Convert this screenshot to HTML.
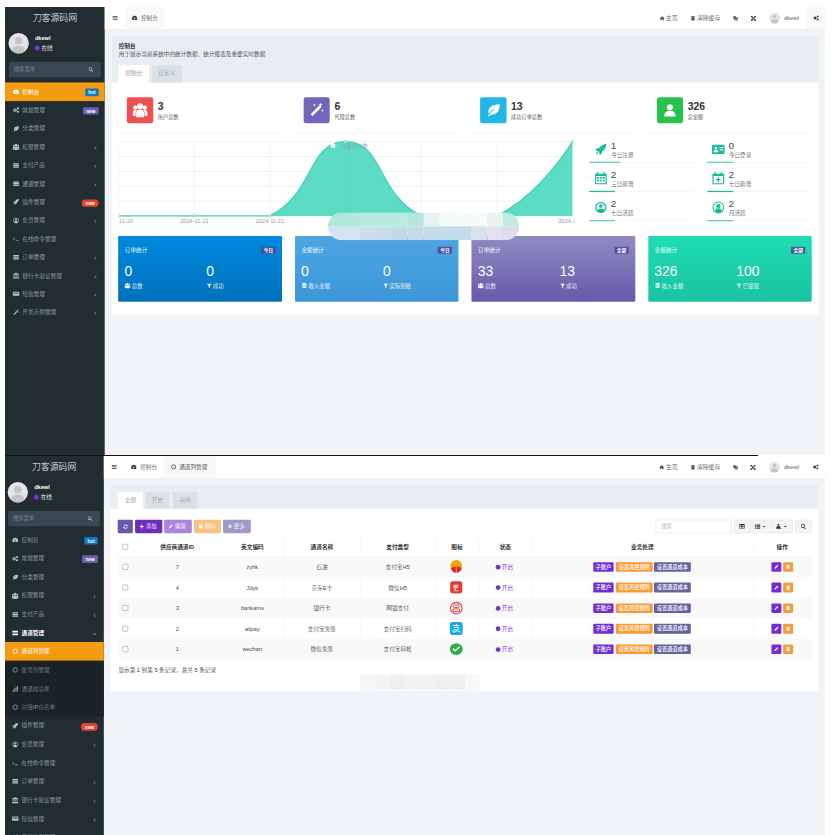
<!DOCTYPE html>
<html lang="zh-CN"><head><meta charset="utf-8"><title>刀客源码网</title>
<style>
*{box-sizing:border-box;margin:0;padding:0}
html,body{width:832px;height:835px;overflow:hidden;background:#fff}
body{position:relative;font-family:"Liberation Sans","Noto Sans CJK SC",sans-serif}
.shot{position:absolute;left:5px;transform-origin:0 0;transform:scale(.4335);overflow:hidden;background:#f1f4f6;font-size:13px;color:#444;width:1891.6px;font-weight:350}
.shot div,.shot span,.shot b,.shot i,.shot svg{position:absolute;white-space:nowrap}
.ic{fill:currentColor;overflow:visible}
.side{left:0;top:0;bottom:0;background:#222d32}
.logo{left:0;top:0;height:50px;line-height:51.500px;text-align:center;color:#fff;font-size:20.5px;font-weight:300}
.ava{border-radius:50%;background:#e4e4e4;overflow:hidden}
.ava i{background:#c4c4c4;border-radius:50%}
.uname{color:#fff;font-weight:bold;font-size:13px;left:69px;top:64px;line-height:18px}
.ustat{color:#fff;font-size:13px;left:84px;top:87px;line-height:16px}
.udot{left:68.500px;top:89px;width:11.500px;height:11.500px;border-radius:50%;background:#7a2ee0}
.sform{left:9px;top:126.500px;height:35.5px;background:#374850;border-radius:3px}
.sform span{left:12px;top:0;line-height:35.5px;color:#7f8f98;font-size:12px}
.mi{left:0;height:42.8px;line-height:42.8px;color:#b8c7ce;font-size:13px;font-weight:300}
.mi span{left:40px;top:.5px}
.mi.act{background:#f39c12;color:#fff;font-weight:400}
.mi.open{color:#fff;font-weight:bold}
.mi.subi{color:#8aa4af}
.sub{left:0;background:#1a2226}
.bd{font-size:11px;font-weight:bold;color:#fff;line-height:19.500px;height:17.500px;top:14.300px;text-align:center;border-radius:3px;font-style:normal}
.hdr{top:0;right:0;height:52px;background:#fff;border-bottom:1px solid #dfe4e8}
.tab{top:0;height:51px;line-height:51px;font-size:13px;color:#555}
.tab span{top:0}
.hr{top:0;height:51px;line-height:51px;font-size:13.7px;color:#666}

.panel{background:#fff}
.phead{background:#e8edf0}
.ptitle{font-weight:bold;font-size:13px;color:#333;line-height:18px}
.pdesc{font-size:13px;color:#444;line-height:18px}
.ntab{height:40px;line-height:40px;text-align:center;font-size:13px;color:#7b8a8b}
.sticon{width:60.5px;height:60.5px;border-radius:5px}
.stnum{font-size:24px;font-weight:bold;color:#333;line-height:28px}
.stlab{font-size:12px;color:#444;line-height:16px}
.stline{height:1.5px;background:#eef0f2}
.qn{font-size:23px;color:#4a4a4a;line-height:22px}
.ql{font-size:12.8px;color:#555;line-height:16px}
.qbar{height:1.6px;background:#ebedef}
.qbar i{left:0;top:-.3px;height:2.200px;background:#18bc9c}
.card{height:152.700px;width:377.500px;border-radius:3px;color:#fff}
.card .t{left:15px;top:24px;font-size:13px;line-height:18px}
.card .b{right:15px;top:25.500px;height:16px;line-height:16px;padding:0 5.500px;font-size:11px;font-weight:bold;background:rgba(78,66,150,.82);border-radius:2px}
.card .n{top:59px;font-size:32px;line-height:44px}
.card .l{top:107.700px;font-size:12.500px;line-height:18px}
.ax{font-size:13px;fill:#999}

.tb{height:30.800px;line-height:30.800px;border-radius:3px;color:#fff;font-size:12.500px;top:147px}
.tb span{top:0}
.th{font-weight:bold;color:#333;font-size:13px;line-height:46.700px;top:188px;height:42.700px;text-align:center}
.td{font-size:13px;color:#4a4a4a;text-align:center;line-height:47.500px;height:47.500px}
.vb{border-left:1.200px solid #eef0f2;top:188px;width:0;height:281.600px}
.cb{width:13px;height:13px;border:1.300px solid #767676;border-radius:2.500px;background:#fff;left:271.200px}
.bb{height:22.400px;line-height:22.400px;font-size:12px;font-weight:500;color:#fff;border-radius:2.500px;text-align:center}
.g{background:#f4f4f4;border:1.200px solid #ddd;top:146.500px;height:31.800px}
</style></head>
<body>
<div class="shot" style="top:7px;height:1034px"><div class="side" style="width:230px"><div class="logo" style="width:230px">刀客源码网</div><div class="ava" style="left:7.500px;top:59.500px;width:47.500px;height:47.500px"><i style="left:15.500px;top:9.500px;width:16.500px;height:16.500px"></i><i style="left:7px;top:29px;width:33.500px;height:27px"></i></div><div class="uname">dkewl</div><div class="udot"></div><div class="ustat">在线</div><div class="sform" style="width:212px"><span>搜索菜单</span><svg class="ic" style="left:183px;top:11.5px;width:12.5px;height:12.5px;color:#b8c7ce;" viewBox="0 0 16 16"><path d="M6.500 1a5.500 5.500 0 0 1 4.400 8.800l4 4-1.600 1.600-4-4A5.500 5.500 0 1 1 6.500 1zm0 2a3.500 3.500 0 1 0 0 7 3.500 3.500 0 0 0 0-7z"/></svg></div><div class="mi act" style="top:174.0px;width:230px"><svg class="ic" style="left:18px;top:14px;width:15px;height:15px;" viewBox="0 0 16 16"><path d="M8 2.5a7 7 0 0 0-7 7c0 1.5.4 2.8 1.1 3.9h11.8A7 7 0 0 0 8 2.5zM8 11.8a1.5 1.5 0 0 1-1.3-2.2L5 5.5l3.6 3.4A1.5 1.5 0 0 1 8 11.8z"/></svg><span>控制台</span><b class="bd" style="left:185px;width:31px;background:#0f7ac2">hot</b></div><div class="mi " style="top:216.4px;width:230px"><svg class="ic" style="left:18px;top:14px;width:15px;height:15px;" viewBox="0 0 16 16"><circle cx="5.5" cy="8.5" r="4.2"/><circle cx="12.6" cy="4.2" r="2.6"/><circle cx="12.6" cy="12.4" r="2.6"/><circle cx="5.5" cy="8.5" r="1.5" fill="#222d32"/></svg><span>常规管理</span><b class="bd" style="left:180px;width:36px;background:#6a5fb3">new</b></div><div class="mi " style="top:258.8px;width:230px"><svg class="ic" style="left:18px;top:14px;width:15px;height:15px;" viewBox="0 0 16 16"><path d="M15 2C8 1.5 2.5 4.5 2.5 9.5c0 .9.2 1.7.6 2.4C5 8.8 7.6 7 11 6.2 8 7.8 4.6 10.6 2 14.5l1.3.7c.5-.9 1.1-1.7 1.7-2.4C11 14.2 15 9 15 2z"/></svg><span>分类管理</span></div><div class="mi " style="top:301.2px;width:230px"><svg class="ic" style="left:18px;top:14px;width:15px;height:15px;" viewBox="0 0 16 16"><circle cx="8" cy="3.800" r="3.300"/><circle cx="2.700" cy="5.400" r="2.300"/><circle cx="13.300" cy="5.400" r="2.300"/><path d="M3.600 16v-5c0-2.400 1.800-3.700 4.400-3.700s4.400 1.300 4.400 3.700v5zM0 14.500v-3.800C0 9 1.100 8 2.700 8c.6 0 1.100.1 1.500.4-.8.800-1.200 1.800-1.200 3v3.100zM16 14.500v-3.800C16 9 14.900 8 13.300 8c-.6 0-1.100.1-1.500.4.800.8 1.200 1.800 1.200 3v3.100z"/></svg><span>权限管理</span><svg class="ic" style="left:204px;top:19.5px;width:9.5px;height:9.5px;" viewBox="0 0 16 16"><path d="M10.500 2.500L5 8l5.500 5.500" fill="none" stroke="currentColor" stroke-width="2.300"/></svg></div><div class="mi " style="top:343.6px;width:230px"><svg class="ic" style="left:18px;top:14px;width:15px;height:15px;" viewBox="0 0 16 16"><path d="M1 2.500h14v3H1zM1 6.700h14v2.600H1zM1 10.500h14v3H1z"/></svg><span>支付产品</span><svg class="ic" style="left:204px;top:19.5px;width:9.5px;height:9.5px;" viewBox="0 0 16 16"><path d="M10.500 2.500L5 8l5.500 5.500" fill="none" stroke="currentColor" stroke-width="2.300"/></svg></div><div class="mi " style="top:386.0px;width:230px"><svg class="ic" style="left:18px;top:14px;width:15px;height:15px;" viewBox="0 0 16 16"><path d="M1 2.500h14v3H1zM1 6.700h14v2.600H1zM1 10.500h14v3H1z"/></svg><span>通道管理</span><svg class="ic" style="left:204px;top:19.5px;width:9.5px;height:9.5px;" viewBox="0 0 16 16"><path d="M10.500 2.500L5 8l5.500 5.500" fill="none" stroke="currentColor" stroke-width="2.300"/></svg></div><div class="mi " style="top:428.4px;width:230px"><svg class="ic" style="left:18px;top:14px;width:15px;height:15px;" viewBox="0 0 16 16"><path d="M15 1c-4 .2-7 2-9.500 5.500L2.500 7 1 9.500l3 .5 2 2 .5 3L9 13.500l.5-3C13 8 14.800 5 15 1zM3.500 11l-2.200 3.700L5 12.500z"/></svg><span>插件管理</span><b class="bd" style="left:177px;width:39px;top:15.300px;background:#e5402f;border-radius:9px">new</b></div><div class="mi " style="top:470.8px;width:230px"><svg class="ic" style="left:18px;top:14px;width:15px;height:15px;" viewBox="0 0 16 16"><circle cx="8" cy="8" r="6.300" fill="none" stroke="currentColor" stroke-width="1.700"/><circle cx="8" cy="6.200" r="2.300"/><path d="M3.800 12.300c.5-2 2-3 4.200-3s3.700 1 4.200 3A6 6 0 0 1 8 14.200a6 6 0 0 1-4.200-1.900z"/></svg><span>会员管理</span><svg class="ic" style="left:204px;top:19.5px;width:9.5px;height:9.5px;" viewBox="0 0 16 16"><path d="M10.500 2.500L5 8l5.500 5.500" fill="none" stroke="currentColor" stroke-width="2.300"/></svg></div><div class="mi " style="top:513.2px;width:230px"><svg class="ic" style="left:18px;top:14px;width:15px;height:15px;" viewBox="0 0 16 16"><path d="M1.500 5l4 3.500-4 3.500v-1.600L3.700 8.500 1.500 6.600zM7 11.500h7V13H7z"/></svg><span>在线命令管理</span></div><div class="mi " style="top:555.5999999999999px;width:230px"><svg class="ic" style="left:18px;top:14px;width:15px;height:15px;" viewBox="0 0 16 16"><path d="M1 2.500h14v3H1zM1 6.700h14v2.600H1zM1 10.500h14v3H1z"/></svg><span>订单管理</span><svg class="ic" style="left:204px;top:19.5px;width:9.5px;height:9.5px;" viewBox="0 0 16 16"><path d="M10.500 2.500L5 8l5.500 5.500" fill="none" stroke="currentColor" stroke-width="2.300"/></svg></div><div class="mi " style="top:598.0px;width:230px"><svg class="ic" style="left:18px;top:14px;width:15px;height:15px;" viewBox="0 0 16 16"><path d="M8 1l7.500 3.500V6H.5V4.500zM2 7h2.400v5H2zm4.800 0h2.400v5H6.800zm4.800 0H14v5h-2.400zM1 12.800h14V14H1zM0 14.400h16V16H0z"/></svg><span>银行卡验证管理</span><svg class="ic" style="left:204px;top:19.5px;width:9.5px;height:9.5px;" viewBox="0 0 16 16"><path d="M10.500 2.500L5 8l5.500 5.500" fill="none" stroke="currentColor" stroke-width="2.300"/></svg></div><div class="mi " style="top:640.4px;width:230px"><svg class="ic" style="left:18px;top:14px;width:15px;height:15px;" viewBox="0 0 16 16"><path d="M1.500 3h13c.8 0 1.500.7 1.500 1.500v7c0 .8-.7 1.500-1.500 1.500h-13C.7 13 0 12.300 0 11.500v-7C0 3.700.7 3 1.500 3zM1.500 5.500v2h13v-2zM2 10h3v1.200H2z"/></svg><span>短信管理</span><svg class="ic" style="left:204px;top:19.5px;width:9.5px;height:9.5px;" viewBox="0 0 16 16"><path d="M10.500 2.500L5 8l5.500 5.500" fill="none" stroke="currentColor" stroke-width="2.300"/></svg></div><div class="mi " style="top:682.8px;width:230px"><svg class="ic" style="left:18px;top:14px;width:15px;height:15px;" viewBox="0 0 16 16"><path d="M11.500 2.500l2 2L3.500 14.500l-2-2zM12.500 0l.6 1.400L14.500 2l-1.400.6L12.500 4l-.6-1.400L10.500 2l1.400-.6zM5.500 1l.5 1 1 .5-1 .5-.5 1-.5-1-1-.5 1-.5zM14.500 7l.5 1 1 .5-1 .5-.5 1-.5-1-1-.5 1-.5z"/></svg><span>开发示例管理</span><svg class="ic" style="left:204px;top:19.5px;width:9.5px;height:9.5px;" viewBox="0 0 16 16"><path d="M10.500 2.500L5 8l5.500 5.500" fill="none" stroke="currentColor" stroke-width="2.300"/></svg></div></div><div class="hdr" style="left:230px"><svg class="ic" style="left:16.5px;top:18px;width:14px;height:14px;color:#444;" viewBox="0 0 16 16"><path d="M1.500 3h13v2h-13zM1.500 7h13v2h-13zM1.500 11h13v2h-13z"/></svg><div class="tab" style="left:46.6px;width:91px;background:#f9f9f9"><svg class="ic" style="left:15px;top:18px;width:14px;height:14px;color:#444;" viewBox="0 0 16 16"><path d="M8 2.5a7 7 0 0 0-7 7c0 1.5.4 2.8 1.1 3.9h11.8A7 7 0 0 0 8 2.5zM8 11.8a1.5 1.5 0 0 1-1.3-2.2L5 5.5l3.6 3.4A1.5 1.5 0 0 1 8 11.8z"/></svg><span style="left:37px;color:#555">控制台</span></div><svg class="ic" style="left:1279.5px;top:19.5px;width:12px;height:12px;color:#555;" viewBox="0 0 16 16"><path d="M8 1.500L.5 8h2v6h4v-4h3v4h4V8h2z"/></svg><div class="hr" style="left:1294.5px">主页</div><svg class="ic" style="left:1351.4px;top:19.5px;width:12px;height:12px;color:#555;" viewBox="0 0 16 16"><path d="M5.500 1h5l.5 1.500H15V4H1V2.500h4zM2.500 5h11l-.8 10H3.300z"/></svg><div class="hr" style="left:1365.6px">清除缓存</div><svg class="ic" style="left:1448.6px;top:19.5px;width:12px;height:12px;color:#555;" viewBox="0 0 16 16"><path d="M1 2h8l1.500 10H2.500zM9.500 4.500H15V15H7l-.5-2h5z"/></svg><svg class="ic" style="left:1489.5px;top:19.5px;width:13px;height:13px;color:#444;" viewBox="0 0 16 16"><path d="M1 1h5.500L4.800 2.700 8 5.900l3.200-3.200L9.500 1H15v5.500l-1.700-1.700L10.100 8l3.200 3.200L15 9.500V15H9.500l1.700-1.700L8 10.100l-3.200 3.200L6.500 15H1V9.500l1.700 1.700L5.900 8 2.700 4.800 1 6.500z"/></svg><div class="ava" style="left:1532.5px;top:12.5px;width:25px;height:25px"><i style="left:8.500px;top:5px;width:8px;height:8px"></i><i style="left:4px;top:15px;width:17px;height:14px"></i></div><div class="hr" style="left:1567px">dkewl</div><div style="left:1617.6px;top:0;width:44px;height:51px;background:#f9f9f9"></div><svg class="ic" style="left:1633.5px;top:18px;width:14px;height:14px;color:#444;" viewBox="0 0 16 16"><circle cx="5.5" cy="8.5" r="4.2"/><circle cx="12.6" cy="4.2" r="2.6"/><circle cx="12.6" cy="12.4" r="2.6"/><circle cx="5.5" cy="8.5" r="1.5" fill="#222d32"/></svg></div><div class="panel" style="left:246.400px;top:67px;width:1630.200px;height:644px"></div><div class="phead" style="left:246.400px;top:67px;width:1630.200px;height:106.500px"></div><div class="ptitle" style="left:262.400px;top:81px">控制台</div><div class="pdesc" style="left:262.400px;top:99px">用于展示当前系统中的统计数据、统计报表及重要实时数据</div><div class="ntab" style="left:262.400px;top:133.500px;width:70px;background:#fff">控制台</div><div class="ntab" style="left:338.500px;top:133.500px;width:69.500px;background:#d9e0e6;color:#95a5a6">自定义</div><div class="sticon" style="left:281.4px;top:207.500px;background:#f05050"><svg class="ic" style="left:13.5px;top:13px;width:33.5px;height:33.5px;color:#fff;" viewBox="0 0 16 16"><circle cx="8" cy="3.800" r="3.300"/><circle cx="2.700" cy="5.400" r="2.300"/><circle cx="13.300" cy="5.400" r="2.300"/><path d="M3.600 16v-5c0-2.400 1.800-3.700 4.400-3.700s4.400 1.300 4.400 3.700v5zM0 14.500v-3.800C0 9 1.100 8 2.700 8c.6 0 1.100.1 1.500.4-.8.800-1.200 1.800-1.200 3v3.100zM16 14.500v-3.800C16 9 14.900 8 13.300 8c-.6 0-1.100.1-1.500.4.800.8 1.200 1.800 1.200 3v3.100z"/></svg></div><div class="stnum" style="left:352.4px;top:214.5px">3</div><div class="stlab" style="left:352.4px;top:246px">用户总数</div><div class="stline" style="left:261.4px;top:289px;width:377.500px"></div><div class="sticon" style="left:688.9px;top:207.500px;background:#7266ba"><svg class="ic" style="left:13.5px;top:13px;width:33.5px;height:33.5px;color:#fff;" viewBox="0 0 16 16"><path d="M11.500 2.500l2 2L3.500 14.500l-2-2zM12.500 0l.6 1.400L14.500 2l-1.400.6L12.500 4l-.6-1.400L10.500 2l1.400-.6zM5.500 1l.5 1 1 .5-1 .5-.5 1-.5-1-1-.5 1-.5zM14.500 7l.5 1 1 .5-1 .5-.5 1-.5-1-1-.5 1-.5z"/></svg></div><div class="stnum" style="left:759.9px;top:214.5px">6</div><div class="stlab" style="left:759.9px;top:246px">代理总数</div><div class="stline" style="left:668.9px;top:289px;width:377.500px"></div><div class="sticon" style="left:1096.4px;top:207.500px;background:#23b7e5"><svg class="ic" style="left:13.5px;top:13px;width:33.5px;height:33.5px;color:#fff;" viewBox="0 0 16 16"><path d="M15 2C8 1.5 2.5 4.5 2.5 9.5c0 .9.2 1.7.6 2.4C5 8.8 7.6 7 11 6.2 8 7.8 4.6 10.6 2 14.5l1.3.7c.5-.9 1.1-1.7 1.7-2.4C11 14.2 15 9 15 2z"/></svg></div><div class="stnum" style="left:1167.4px;top:214.5px">13</div><div class="stlab" style="left:1167.4px;top:246px">成功订单总数</div><div class="stline" style="left:1076.4px;top:289px;width:377.500px"></div><div class="sticon" style="left:1503.9px;top:207.500px;background:#27c24c"><svg class="ic" style="left:13.5px;top:13px;width:33.5px;height:33.5px;color:#fff;" viewBox="0 0 16 16"><circle cx="8" cy="4.800" r="3.300"/><path d="M1.800 15c0-4 2.400-6.200 6.200-6.200s6.200 2.200 6.200 6.200z"/></svg></div><div class="stnum" style="left:1574.9px;top:214.5px">326</div><div class="stlab" style="left:1574.9px;top:246px">总金额</div><div class="stline" style="left:1483.9px;top:289px;width:377.500px"></div><svg style="left:0;top:0;width:1400px;height:560px;overflow:visible" viewBox="0 0 1400 560"><clipPath id="cc"><rect x="261.900" y="290" width="1051.600" height="230"/></clipPath><g clip-path="url(#cc)"><path d="M262.4 310.6H1308.8" stroke="#e3e6e9" stroke-width="1.500" fill="none"/><path d="M262.4 344.9H1308.8" stroke="#e3e6e9" stroke-width="1.500" fill="none"/><path d="M262.4 379.2H1308.8" stroke="#e3e6e9" stroke-width="1.500" fill="none"/><path d="M262.4 413.4H1308.8" stroke="#e3e6e9" stroke-width="1.500" fill="none"/><path d="M262.4 447.7H1308.8" stroke="#e3e6e9" stroke-width="1.500" fill="none"/><path d="M262.4 482.0H1308.8" stroke="#e3e6e9" stroke-width="1.500" fill="none"/><path d="M262.4 310.6V488.0" stroke="#eceef1" stroke-width="1.300" fill="none"/><path d="M436.8 310.6V488.0" stroke="#eceef1" stroke-width="1.300" fill="none"/><path d="M611.2 310.6V488.0" stroke="#eceef1" stroke-width="1.300" fill="none"/><path d="M785.6 310.6V488.0" stroke="#eceef1" stroke-width="1.300" fill="none"/><path d="M960.0 310.6V488.0" stroke="#eceef1" stroke-width="1.300" fill="none"/><path d="M1134.4 310.6V488.0" stroke="#eceef1" stroke-width="1.300" fill="none"/><path d="M1308.8 310.6V488.0" stroke="#eceef1" stroke-width="1.300" fill="none"/><path d="M262.4 482.0L611.2 482.0C713.5 431.5 698.1 310.6 785.6 310.6C873.1 310.6 857.7 431.5 960.0 482.0L1134.4 482.0C1236.7 431.5 1308.8 310.6 1308.8 310.6L1308.8 482.0Z" fill="#5cdcc4"/><path d="M262.4 482.0L611.2 482.0C713.5 431.5 698.1 310.6 785.6 310.6C873.1 310.6 857.7 431.5 960.0 482.0L1134.4 482.0C1236.7 431.5 1308.8 310.6 1308.8 310.6" fill="none" stroke="#3fd3b8" stroke-width="3"/><path d="M785.6 310.6V482.0" stroke="#55d6bd" stroke-width="1.200" fill="none"/><circle cx="262.4" cy="482.0" r="3" fill="#fff" stroke="#3fd3b8" stroke-width="1.600"/><circle cx="436.8" cy="482.0" r="3" fill="#fff" stroke="#3fd3b8" stroke-width="1.600"/><circle cx="611.2" cy="482.0" r="3" fill="#fff" stroke="#3fd3b8" stroke-width="1.600"/><circle cx="785.6" cy="310.6" r="3" fill="#fff" stroke="#3fd3b8" stroke-width="1.600"/><circle cx="960.0" cy="482.0" r="3" fill="#fff" stroke="#3fd3b8" stroke-width="1.600"/><circle cx="1134.4" cy="482.0" r="3" fill="#fff" stroke="#3fd3b8" stroke-width="1.600"/><circle cx="1308.8" cy="310.6" r="3" fill="#fff" stroke="#3fd3b8" stroke-width="1.600"/><circle cx="757" cy="320" r="5.500" fill="#fff"/><text x="775" y="324.500" style="font-size:12.500px" fill="#7fa9a1">注册用户数</text><text class="ax" x="262.4" y="499" text-anchor="middle">2024-11-20</text><text class="ax" x="436.8" y="499" text-anchor="middle">2024-11-21</text><text class="ax" x="611.2" y="499" text-anchor="middle">2024-11-22</text><text class="ax" x="785.6" y="499" text-anchor="middle">2024-11-23</text><text class="ax" x="960.0" y="499" text-anchor="middle">2024-11-24</text><text class="ax" x="1134.4" y="499" text-anchor="middle">2024-11-25</text><text class="ax" x="1308.8" y="499" text-anchor="middle">2024-11-26</text></g></svg><svg class="ic" style="left:1359.5px;top:314.0px;width:29px;height:29px;color:#18bc9c;" viewBox="0 0 16 16"><path d="M15 1c-4 .2-7 2-9.500 5.500L2.500 7 1 9.500l3 .5 2 2 .5 3L9 13.500l.5-3C13 8 14.800 5 15 1zM3.500 11l-2.200 3.700L5 12.500z"/></svg><div class="qn" style="left:1397.5px;top:309.0px">1</div><div class="ql" style="left:1398.5px;top:334.0px">今日注册</div><div class="qbar" style="left:1348.0px;top:357.5px;width:241.600px"><i style="width:71px"></i></div><svg class="ic" style="left:1631.2px;top:314.0px;width:29px;height:29px;color:#18bc9c;" viewBox="0 0 16 16"><path d="M1.500 2h13c.8 0 1.500.7 1.500 1.500v9c0 .8-.7 1.500-1.500 1.500h-13C.7 14 0 13.300 0 12.500v-9C0 2.700.7 2 1.500 2zM5 4.500a1.800 1.800 0 1 0 0 3.600 1.800 1.800 0 0 0 0-3.600zM2 11.500h6c0-2-1.200-3-3-3s-3 1-3 3zM9.500 5v1.500h5V5zM9.500 8v1.500h5V8z"/></svg><div class="qn" style="left:1669.2px;top:309.0px">0</div><div class="ql" style="left:1670.2px;top:334.0px">今日登录</div><div class="qbar" style="left:1619.7px;top:357.5px;width:241.600px"><i style="width:60px"></i></div><svg class="ic" style="left:1359.5px;top:381.2px;width:29px;height:29px;color:#18bc9c;" viewBox="0 0 16 16"><path d="M3 0h2v2h6V0h2v2h2.500v13.500H.5V2H3zM2 5v9h12V5zM3 6.200h2.600v2.200H3zm3.700 0h2.600v2.200H6.700zm3.700 0H13v2.200h-2.600zM3 9.500h2.600v2.200H3zm3.700 0h2.600v2.200H6.700zm3.700 0H13v2.200h-2.600z" fill-rule="evenodd"/></svg><div class="qn" style="left:1397.5px;top:376.2px">2</div><div class="ql" style="left:1398.5px;top:401.2px">三日新增</div><div class="qbar" style="left:1348.0px;top:424.7px;width:241.600px"><i style="width:59px"></i></div><svg class="ic" style="left:1631.2px;top:381.2px;width:29px;height:29px;color:#18bc9c;" viewBox="0 0 16 16"><path d="M3 0h2v2h6V0h2v2h2.500v13.500H.5V2H3zM2 5v9h12V5zM7.200 6.500h1.600v2.200H11v1.600H8.800v2.200H7.200v-2.200H5V8.700h2.200z" fill-rule="evenodd"/></svg><div class="qn" style="left:1669.2px;top:376.2px">2</div><div class="ql" style="left:1670.2px;top:401.2px">七日新增</div><div class="qbar" style="left:1619.7px;top:424.7px;width:241.600px"><i style="width:60px"></i></div><svg class="ic" style="left:1359.5px;top:448.4px;width:29px;height:29px;color:#18bc9c;" viewBox="0 0 16 16"><circle cx="8" cy="8" r="6.300" fill="none" stroke="currentColor" stroke-width="1.700"/><circle cx="8" cy="6.200" r="2.300"/><path d="M3.800 12.300c.5-2 2-3 4.200-3s3.700 1 4.200 3A6 6 0 0 1 8 14.200a6 6 0 0 1-4.200-1.900z"/></svg><div class="qn" style="left:1397.5px;top:443.4px">2</div><div class="ql" style="left:1398.5px;top:468.4px">七日活跃</div><div class="qbar" style="left:1348.0px;top:491.9px;width:241.600px"><i style="width:59px"></i></div><svg class="ic" style="left:1631.2px;top:448.4px;width:29px;height:29px;color:#18bc9c;" viewBox="0 0 16 16"><path d="M8 .5a7.500 7.500 0 1 0 0 15 7.500 7.500 0 0 0 0-15zm0 1.300a6.200 6.200 0 1 1 0 12.400A6.200 6.200 0 0 1 8 1.800zM8 3.500a2.700 2.700 0 1 0 0 5.400 2.700 2.700 0 0 0 0-5.400zM3.600 12c.4-1.800 2-3 4.400-3s4 1.200 4.400 3A5.600 5.600 0 0 1 8 14a5.600 5.600 0 0 1-4.400-2z" fill-rule="evenodd"/></svg><div class="qn" style="left:1669.2px;top:443.4px">2</div><div class="ql" style="left:1670.2px;top:468.4px">月活跃</div><div class="qbar" style="left:1619.7px;top:491.9px;width:241.600px"><i style="width:60px"></i></div><div class="card" style="left:261.4px;top:527.700px;background:linear-gradient(#0089de,#0071bb)"><div class="t">订单统计</div><div class="b">今日</div><div class="n" style="left:14px">0</div><div class="n" style="left:203px">0</div><svg class="ic" style="left:15px;top:108.5px;width:13px;height:13px;color:#fff;" viewBox="0 0 16 16"><circle cx="8" cy="3.800" r="3.300"/><circle cx="2.700" cy="5.400" r="2.300"/><circle cx="13.300" cy="5.400" r="2.300"/><path d="M3.600 16v-5c0-2.400 1.800-3.700 4.400-3.700s4.400 1.300 4.400 3.700v5zM0 14.500v-3.800C0 9 1.100 8 2.700 8c.6 0 1.100.1 1.500.4-.8.800-1.200 1.800-1.200 3v3.100zM16 14.500v-3.800C16 9 14.900 8 13.300 8c-.6 0-1.100.1-1.500.4.800.8 1.200 1.800 1.200 3v3.100z"/></svg><div class="l" style="left:31px">总数</div><svg class="ic" style="left:203.5px;top:109.5px;width:12.5px;height:12.5px;color:#fff;" viewBox="0 0 16 16"><path d="M1 2h14L9.700 8v7L6.300 12.500V8z"/></svg><div class="l" style="left:218px">成功</div></div><div class="card" style="left:668.9px;top:527.700px;background:linear-gradient(#4ea5e0,#3c97da)"><div class="t">金额统计</div><div class="b">今日</div><div class="n" style="left:14px">0</div><div class="n" style="left:203px">0</div><svg class="ic" style="left:15px;top:108.5px;width:13px;height:13px;color:#fff;" viewBox="0 0 16 16"><path d="M2 2.500C2 1.500 4.500.8 8 .8s6 .7 6 1.700v2c0 1-2.500 1.700-6 1.700s-6-.7-6-1.700zM2 6.200c1 .9 3.300 1.400 6 1.400s5-.5 6-1.400v2.500c0 1-2.500 1.700-6 1.700s-6-.7-6-1.700zM2 10.400c1 .9 3.300 1.400 6 1.400s5-.5 6-1.400v2.800c0 1-2.500 1.800-6 1.800s-6-.8-6-1.800z"/></svg><div class="l" style="left:31px">收入金额</div><svg class="ic" style="left:203.5px;top:109.5px;width:12.5px;height:12.5px;color:#fff;" viewBox="0 0 16 16"><path d="M1 2h14L9.700 8v7L6.300 12.500V8z"/></svg><div class="l" style="left:218px">实际到账</div></div><div class="card" style="left:1076.4px;top:527.700px;background:linear-gradient(#8f8bc4,#665aa9)"><div class="t">订单统计</div><div class="b">全部</div><div class="n" style="left:14px">33</div><div class="n" style="left:203px">13</div><svg class="ic" style="left:15px;top:108.5px;width:13px;height:13px;color:#fff;" viewBox="0 0 16 16"><circle cx="8" cy="3.800" r="3.300"/><circle cx="2.700" cy="5.400" r="2.300"/><circle cx="13.300" cy="5.400" r="2.300"/><path d="M3.600 16v-5c0-2.400 1.800-3.700 4.400-3.700s4.400 1.300 4.400 3.700v5zM0 14.500v-3.800C0 9 1.100 8 2.700 8c.6 0 1.100.1 1.500.4-.8.800-1.200 1.800-1.200 3v3.100zM16 14.500v-3.800C16 9 14.900 8 13.300 8c-.6 0-1.100.1-1.500.4.800.8 1.200 1.800 1.200 3v3.100z"/></svg><div class="l" style="left:31px">总数</div><svg class="ic" style="left:203.5px;top:109.5px;width:12.5px;height:12.5px;color:#fff;" viewBox="0 0 16 16"><path d="M1 2h14L9.700 8v7L6.300 12.500V8z"/></svg><div class="l" style="left:218px">成功</div></div><div class="card" style="left:1483.9px;top:527.700px;background:linear-gradient(#1fdcb4,#1bc3a0)"><div class="t">金额统计</div><div class="b">全部</div><div class="n" style="left:14px">326</div><div class="n" style="left:203px">100</div><svg class="ic" style="left:15px;top:108.5px;width:13px;height:13px;color:#fff;" viewBox="0 0 16 16"><path d="M2 2.500C2 1.500 4.500.8 8 .8s6 .7 6 1.700v2c0 1-2.500 1.700-6 1.700s-6-.7-6-1.700zM2 6.200c1 .9 3.300 1.400 6 1.400s5-.5 6-1.400v2.500c0 1-2.500 1.700-6 1.700s-6-.7-6-1.700zM2 10.400c1 .9 3.300 1.400 6 1.400s5-.5 6-1.400v2.800c0 1-2.500 1.800-6 1.800s-6-.8-6-1.800z"/></svg><div class="l" style="left:31px">收入金额</div><svg class="ic" style="left:203.5px;top:109.5px;width:12.5px;height:12.5px;color:#fff;" viewBox="0 0 16 16"><path d="M1 2h14L9.700 8v7L6.300 12.500V8z"/></svg><div class="l" style="left:218px">已提现</div></div><div style="left:745px;top:473.5px;width:441px;height:64px;border-radius:32px;overflow:hidden"><div style="left:0.0px;top:0;width:37.4px;height:32px;background:#b4e7dc"></div><div style="left:0.0px;top:32px;width:37.4px;height:32px;background:#cfe4f5"></div><div style="left:36.8px;top:0;width:37.4px;height:32px;background:#b4e7dc"></div><div style="left:36.8px;top:32px;width:37.4px;height:32px;background:#cfe4f5"></div><div style="left:73.5px;top:0;width:37.4px;height:32px;background:#b9ebe2"></div><div style="left:73.5px;top:32px;width:37.4px;height:32px;background:#cae0f0"></div><div style="left:110.2px;top:0;width:37.4px;height:32px;background:#b9ebe2"></div><div style="left:110.2px;top:32px;width:37.4px;height:32px;background:#c6dcec"></div><div style="left:147.0px;top:0;width:37.4px;height:32px;background:#b9ebe2"></div><div style="left:147.0px;top:32px;width:37.4px;height:32px;background:#c1d9e9"></div><div style="left:183.8px;top:0;width:37.4px;height:32px;background:#b4e6dc"></div><div style="left:183.8px;top:32px;width:37.4px;height:32px;background:#c4dbea"></div><div style="left:220.5px;top:0;width:37.4px;height:32px;background:#e6f3f0"></div><div style="left:220.5px;top:32px;width:37.4px;height:32px;background:#c4dbea"></div><div style="left:257.2px;top:0;width:37.4px;height:32px;background:#f3faf8"></div><div style="left:257.2px;top:32px;width:37.4px;height:32px;background:#c4dbea"></div><div style="left:294.0px;top:0;width:37.4px;height:32px;background:#f6fbfa"></div><div style="left:294.0px;top:32px;width:37.4px;height:32px;background:#c4dbea"></div><div style="left:330.8px;top:0;width:37.4px;height:32px;background:#f6fbfa"></div><div style="left:330.8px;top:32px;width:37.4px;height:32px;background:#d6e2ec"></div><div style="left:367.5px;top:0;width:37.4px;height:32px;background:#e9f3f0"></div><div style="left:367.5px;top:32px;width:37.4px;height:32px;background:#e3e1ee"></div><div style="left:404.2px;top:0;width:37.4px;height:32px;background:#bfece3"></div><div style="left:404.2px;top:32px;width:37.4px;height:32px;background:#dedced"></div></div></div>
<div style="position:absolute;left:5px;top:455px;width:753px;height:1.300px;background:#111"></div>
<div class="shot" style="top:456px;height:900px"><div style="left:-1.800px;top:0;width:230px;height:900px"><div class="side" style="width:230px"><div class="logo" style="width:230px">刀客源码网</div><div class="ava" style="left:7.500px;top:59.500px;width:47.500px;height:47.500px"><i style="left:15.500px;top:9.500px;width:16.500px;height:16.500px"></i><i style="left:7px;top:29px;width:33.500px;height:27px"></i></div><div class="uname">dkewl</div><div class="udot"></div><div class="ustat">在线</div><div class="sform" style="width:212px"><span>搜索菜单</span><svg class="ic" style="left:183px;top:11.5px;width:12.5px;height:12.5px;color:#b8c7ce;" viewBox="0 0 16 16"><path d="M6.500 1a5.500 5.500 0 0 1 4.400 8.800l4 4-1.600 1.600-4-4A5.500 5.500 0 1 1 6.500 1zm0 2a3.500 3.500 0 1 0 0 7 3.500 3.500 0 0 0 0-7z"/></svg></div><div class="mi " style="top:172.3px;width:230px"><svg class="ic" style="left:18px;top:14px;width:15px;height:15px;" viewBox="0 0 16 16"><path d="M8 2.5a7 7 0 0 0-7 7c0 1.5.4 2.8 1.1 3.9h11.8A7 7 0 0 0 8 2.5zM8 11.8a1.5 1.5 0 0 1-1.3-2.2L5 5.5l3.6 3.4A1.5 1.5 0 0 1 8 11.8z"/></svg><span>控制台</span><b class="bd" style="left:185px;width:31px;background:#0f7ac2">hot</b></div><div class="mi " style="top:215.15px;width:230px"><svg class="ic" style="left:18px;top:14px;width:15px;height:15px;" viewBox="0 0 16 16"><circle cx="5.5" cy="8.5" r="4.2"/><circle cx="12.6" cy="4.2" r="2.6"/><circle cx="12.6" cy="12.4" r="2.6"/><circle cx="5.5" cy="8.5" r="1.5" fill="#222d32"/></svg><span>常规管理</span><b class="bd" style="left:180px;width:36px;background:#6a5fb3">new</b></div><div class="mi " style="top:258.0px;width:230px"><svg class="ic" style="left:18px;top:14px;width:15px;height:15px;" viewBox="0 0 16 16"><path d="M15 2C8 1.5 2.5 4.5 2.5 9.5c0 .9.2 1.7.6 2.4C5 8.8 7.6 7 11 6.2 8 7.8 4.6 10.6 2 14.5l1.3.7c.5-.9 1.1-1.7 1.7-2.4C11 14.2 15 9 15 2z"/></svg><span>分类管理</span></div><div class="mi " style="top:300.85px;width:230px"><svg class="ic" style="left:18px;top:14px;width:15px;height:15px;" viewBox="0 0 16 16"><circle cx="8" cy="3.800" r="3.300"/><circle cx="2.700" cy="5.400" r="2.300"/><circle cx="13.300" cy="5.400" r="2.300"/><path d="M3.600 16v-5c0-2.400 1.800-3.700 4.400-3.700s4.400 1.300 4.400 3.700v5zM0 14.500v-3.800C0 9 1.100 8 2.700 8c.6 0 1.100.1 1.500.4-.8.800-1.200 1.800-1.200 3v3.100zM16 14.500v-3.800C16 9 14.900 8 13.300 8c-.6 0-1.100.1-1.500.4.800.8 1.200 1.800 1.200 3v3.100z"/></svg><span>权限管理</span><svg class="ic" style="left:204px;top:19.5px;width:9.5px;height:9.5px;" viewBox="0 0 16 16"><path d="M10.500 2.500L5 8l5.500 5.500" fill="none" stroke="currentColor" stroke-width="2.300"/></svg></div><div class="mi " style="top:343.70000000000005px;width:230px"><svg class="ic" style="left:18px;top:14px;width:15px;height:15px;" viewBox="0 0 16 16"><path d="M1 2.500h14v3H1zM1 6.700h14v2.600H1zM1 10.500h14v3H1z"/></svg><span>支付产品</span><svg class="ic" style="left:204px;top:19.5px;width:9.5px;height:9.5px;" viewBox="0 0 16 16"><path d="M10.500 2.500L5 8l5.500 5.500" fill="none" stroke="currentColor" stroke-width="2.300"/></svg></div><div class="mi open" style="top:386.55000000000007px;width:230px"><svg class="ic" style="left:18px;top:14px;width:15px;height:15px;" viewBox="0 0 16 16"><path d="M1 2.500h14v3H1zM1 6.700h14v2.600H1zM1 10.500h14v3H1z"/></svg><span>通道管理</span><svg class="ic" style="left:204px;top:19.5px;width:9.5px;height:9.5px;" viewBox="0 0 16 16"><path d="M2.500 5.500L8 11l5.500-5.500" fill="none" stroke="currentColor" stroke-width="2.300"/></svg></div><div class="sub" style="top:429.4000000000001px;width:230px;height:171.4px"></div><div class="mi act" style="top:429.4000000000001px;width:230px"><svg class="ic" style="left:18px;top:14px;width:15px;height:15px;" viewBox="0 0 16 16"><circle cx="8" cy="8" r="5.400" fill="none" stroke="currentColor" stroke-width="2"/></svg><span>通道列管理</span></div><div class="mi subi" style="top:472.2500000000001px;width:230px"><svg class="ic" style="left:18px;top:14px;width:15px;height:15px;" viewBox="0 0 16 16"><circle cx="8" cy="8" r="5.400" fill="none" stroke="currentColor" stroke-width="2"/></svg><span>账号列管理</span></div><div class="mi subi" style="top:515.1000000000001px;width:230px"><svg class="ic" style="left:18px;top:14px;width:15px;height:15px;" viewBox="0 0 16 16"><path d="M1 14h14v1H1zM2 10h2.500v3.500H2zM5.500 7.500H8v6H5.500zM9 4.500h2.500v9H9zM12.500 1.500H15v12h-2.500z"/></svg><span>通道成功率</span></div><div class="mi subi" style="top:557.9500000000002px;width:230px"><svg class="ic" style="left:18px;top:14px;width:15px;height:15px;" viewBox="0 0 16 16"><circle cx="8" cy="8" r="5.400" fill="none" stroke="currentColor" stroke-width="2"/></svg><span>对接IP白名单</span></div><div class="mi " style="top:600.8000000000002px;width:230px"><svg class="ic" style="left:18px;top:14px;width:15px;height:15px;" viewBox="0 0 16 16"><path d="M15 1c-4 .2-7 2-9.500 5.500L2.500 7 1 9.500l3 .5 2 2 .5 3L9 13.500l.5-3C13 8 14.800 5 15 1zM3.500 11l-2.200 3.700L5 12.500z"/></svg><span>插件管理</span><b class="bd" style="left:177px;width:39px;top:15.300px;background:#e5402f;border-radius:9px">new</b></div><div class="mi " style="top:643.6500000000002px;width:230px"><svg class="ic" style="left:18px;top:14px;width:15px;height:15px;" viewBox="0 0 16 16"><circle cx="8" cy="8" r="6.300" fill="none" stroke="currentColor" stroke-width="1.700"/><circle cx="8" cy="6.200" r="2.300"/><path d="M3.800 12.300c.5-2 2-3 4.200-3s3.700 1 4.200 3A6 6 0 0 1 8 14.200a6 6 0 0 1-4.200-1.900z"/></svg><span>会员管理</span><svg class="ic" style="left:204px;top:19.5px;width:9.5px;height:9.5px;" viewBox="0 0 16 16"><path d="M10.500 2.500L5 8l5.500 5.500" fill="none" stroke="currentColor" stroke-width="2.300"/></svg></div><div class="mi " style="top:686.5000000000002px;width:230px"><svg class="ic" style="left:18px;top:14px;width:15px;height:15px;" viewBox="0 0 16 16"><path d="M1.500 5l4 3.500-4 3.500v-1.600L3.700 8.500 1.500 6.600zM7 11.500h7V13H7z"/></svg><span>在线命令管理</span></div><div class="mi " style="top:729.3500000000003px;width:230px"><svg class="ic" style="left:18px;top:14px;width:15px;height:15px;" viewBox="0 0 16 16"><path d="M1 2.500h14v3H1zM1 6.700h14v2.600H1zM1 10.500h14v3H1z"/></svg><span>订单管理</span><svg class="ic" style="left:204px;top:19.5px;width:9.5px;height:9.5px;" viewBox="0 0 16 16"><path d="M10.500 2.500L5 8l5.500 5.500" fill="none" stroke="currentColor" stroke-width="2.300"/></svg></div><div class="mi " style="top:772.2000000000003px;width:230px"><svg class="ic" style="left:18px;top:14px;width:15px;height:15px;" viewBox="0 0 16 16"><path d="M8 1l7.500 3.500V6H.5V4.500zM2 7h2.400v5H2zm4.800 0h2.400v5H6.800zm4.800 0H14v5h-2.400zM1 12.800h14V14H1zM0 14.400h16V16H0z"/></svg><span>银行卡验证管理</span><svg class="ic" style="left:204px;top:19.5px;width:9.5px;height:9.5px;" viewBox="0 0 16 16"><path d="M10.500 2.500L5 8l5.500 5.500" fill="none" stroke="currentColor" stroke-width="2.300"/></svg></div><div class="mi " style="top:815.0500000000003px;width:230px"><svg class="ic" style="left:18px;top:14px;width:15px;height:15px;" viewBox="0 0 16 16"><path d="M1.500 3h13c.8 0 1.500.7 1.500 1.500v7c0 .8-.7 1.500-1.500 1.500h-13C.7 13 0 12.300 0 11.500v-7C0 3.700.7 3 1.500 3zM1.500 5.500v2h13v-2zM2 10h3v1.200H2z"/></svg><span>短信管理</span><svg class="ic" style="left:204px;top:19.5px;width:9.5px;height:9.5px;" viewBox="0 0 16 16"><path d="M10.500 2.500L5 8l5.500 5.500" fill="none" stroke="currentColor" stroke-width="2.300"/></svg></div><div class="mi " style="top:857.9000000000003px;width:230px"><svg class="ic" style="left:18px;top:14px;width:15px;height:15px;" viewBox="0 0 16 16"><path d="M11.500 2.500l2 2L3.500 14.500l-2-2zM12.500 0l.6 1.400L14.500 2l-1.400.6L12.500 4l-.6-1.400L10.500 2l1.400-.6zM5.500 1l.5 1 1 .5-1 .5-.5 1-.5-1-1-.5 1-.5zM14.500 7l.5 1 1 .5-1 .5-.5 1-.5-1-1-.5 1-.5z"/></svg><span>开发示例管理</span><svg class="ic" style="left:204px;top:19.5px;width:9.5px;height:9.5px;" viewBox="0 0 16 16"><path d="M10.500 2.500L5 8l5.500 5.500" fill="none" stroke="currentColor" stroke-width="2.300"/></svg></div></div></div><div class="hdr" style="left:228.2px"><svg class="ic" style="left:16.5px;top:18px;width:14px;height:14px;color:#444;" viewBox="0 0 16 16"><path d="M1.500 3h13v2h-13zM1.500 7h13v2h-13zM1.500 11h13v2h-13z"/></svg><div class="tab" style="left:46.6px;width:91px"><svg class="ic" style="left:15px;top:18px;width:14px;height:14px;color:#444;" viewBox="0 0 16 16"><path d="M8 2.5a7 7 0 0 0-7 7c0 1.5.4 2.8 1.1 3.9h11.8A7 7 0 0 0 8 2.5zM8 11.8a1.5 1.5 0 0 1-1.3-2.2L5 5.5l3.6 3.4A1.5 1.5 0 0 1 8 11.8z"/></svg><span style="left:37px">控制台</span></div><div class="tab" style="left:137.6px;width:120px;background:#f9f9f9"><svg class="ic" style="left:16px;top:18px;width:14px;height:14px;color:#333;" viewBox="0 0 16 16"><circle cx="8" cy="8" r="5.400" fill="none" stroke="currentColor" stroke-width="2"/></svg><span style="left:36px;color:#333">通道列管理</span></div><svg class="ic" style="left:1281.3px;top:19.5px;width:12px;height:12px;color:#555;" viewBox="0 0 16 16"><path d="M8 1.500L.5 8h2v6h4v-4h3v4h4V8h2z"/></svg><div class="hr" style="left:1296.3px">主页</div><svg class="ic" style="left:1353.2px;top:19.5px;width:12px;height:12px;color:#555;" viewBox="0 0 16 16"><path d="M5.500 1h5l.5 1.500H15V4H1V2.500h4zM2.500 5h11l-.8 10H3.300z"/></svg><div class="hr" style="left:1367.4px">清除缓存</div><svg class="ic" style="left:1450.4px;top:19.5px;width:12px;height:12px;color:#555;" viewBox="0 0 16 16"><path d="M1 2h8l1.500 10H2.500zM9.500 4.500H15V15H7l-.5-2h5z"/></svg><svg class="ic" style="left:1491.3px;top:19.5px;width:13px;height:13px;color:#444;" viewBox="0 0 16 16"><path d="M1 1h5.500L4.800 2.700 8 5.900l3.200-3.200L9.500 1H15v5.500l-1.700-1.700L10.100 8l3.200 3.200L15 9.500V15H9.500l1.700-1.700L8 10.100l-3.200 3.200L6.500 15H1V9.500l1.700 1.700L5.900 8 2.700 4.800 1 6.500z"/></svg><div class="ava" style="left:1534.3px;top:12.5px;width:25px;height:25px"><i style="left:8.500px;top:5px;width:8px;height:8px"></i><i style="left:4px;top:15px;width:17px;height:14px"></i></div><div class="hr" style="left:1568.8px">dkewl</div><div style="left:1619.4px;top:0;width:44px;height:51px;background:#fff"></div><svg class="ic" style="left:1635.3px;top:18px;width:14px;height:14px;color:#444;" viewBox="0 0 16 16"><circle cx="5.5" cy="8.5" r="4.2"/><circle cx="12.6" cy="4.2" r="2.6"/><circle cx="12.6" cy="12.4" r="2.6"/><circle cx="5.5" cy="8.5" r="1.5" fill="#222d32"/></svg></div><div style="left:243.2px;top:65.700px;width:1633.2px;height:475.300px;background:#fff"></div><div style="left:243.2px;top:65.700px;width:1633.2px;height:56.600px;background:#e8edf0"></div><div style="left:260.3px;top:82.800px;width:57.6px;height:39.500px;line-height:39.500px;text-align:center;font-size:13px;color:#7b8a8b;background:#fff">全部</div><div style="left:323.9px;top:82.800px;width:55.6px;height:39.500px;line-height:39.500px;text-align:center;font-size:13px;color:#95a5a6;background:#d9e0e6">开启</div><div style="left:387px;top:82.800px;width:55.7px;height:39.500px;line-height:39.500px;text-align:center;font-size:13px;color:#95a5a6;background:#d9e0e6">关闭</div><div class="tb" style="left:260px;width:35.300px;background:#605ca8"><svg class="ic" style="left:12px;top:9.5px;width:12px;height:12px;color:#fff;" viewBox="0 0 16 16"><path d="M8 1.500a6.500 6.500 0 0 1 5 2.300L14.500 2v5h-5l1.900-1.800A4.300 4.300 0 0 0 3.800 7H1.600A6.500 6.500 0 0 1 8 1.500zM1.500 9h5L4.600 10.800A4.300 4.300 0 0 0 12.200 9h2.200A6.500 6.500 0 0 1 3 12.200L1.500 14z"/></svg></div><div class="tb" style="left:299.900px;width:63.400px;background:#6f2dbd"><svg class="ic" style="left:10px;top:10px;width:11px;height:11px;color:#fff;" viewBox="0 0 16 16"><path d="M6.500 1.500h3v5h5v3h-5v5h-3v-5h-5v-3h5z"/></svg><span style="left:25px">添加</span></div><div class="tb" style="left:367.200px;width:63.900px;background:#a985d9"><svg class="ic" style="left:10px;top:10px;width:11px;height:11px;color:#fff;" viewBox="0 0 16 16"><path d="M11.500 1.500l3 3-9 9-4 1 1-4zM10 3l3 3"/></svg><span style="left:25px">编辑</span></div><div class="tb" style="left:436.400px;width:61.900px;background:#f8c37f"><svg class="ic" style="left:10px;top:10px;width:11px;height:11px;color:#fff;" viewBox="0 0 16 16"><path d="M5.500 1h5l.5 1.500H15V4H1V2.500h4zM2.500 5h11l-.8 10H3.300z"/></svg><span style="left:25px">删除</span></div><div class="tb" style="left:502.900px;width:64.600px;background:#9d9bc7"><svg class="ic" style="left:10px;top:10px;width:11px;height:11px;color:#fff;" viewBox="0 0 16 16"><path d="M8 .8l1.500.2.500 1.900 1.200.7 1.900-.6 1 1.300-1 1.700.3 1.400 1.700 1-.3 1.600-1.900.4-.8 1.100.2 2-1.500.600-1.300-1.500H8.100l-1.400 1.500-1.500-.700.3-2-.8-1.100-1.900-.400-.300-1.600 1.700-1 .300-1.400-1-1.700 1-1.300 1.900.6 1.200-.7zM8 5.500a2.500 2.500 0 1 0 0 5 2.500 2.500 0 0 0 0-5z" fill-rule="evenodd"/></svg><span style="left:25px">更多</span></div><div style="left:1500.600px;top:146.500px;width:175.500px;height:31.800px;background:#fff;border:1.200px solid #d2d6de;border-radius:3px"><span style="left:13px;top:0;line-height:29px;font-size:12px;color:#aaa">搜索</span></div><div class="g" style="left:1681.400px;width:136px;border-radius:3px"></div><div style="left:1718.800px;top:146.500px;width:1.200px;height:31.800px;background:#ddd"></div><div style="left:1768.200px;top:146.500px;width:1.200px;height:31.800px;background:#ddd"></div><svg class="ic" style="left:1693px;top:155px;width:14px;height:14px;color:#333;" viewBox="0 0 16 16"><path d="M1 2h14v12H1zM2.500 5.500v2.200h3V5.500zm4.500 0v2.200h2.500V5.500zm4 0v2.200h2.500V5.500zM2.500 9v3.500h3V9zM7 9v3.500h2.500V9zm4 0v3.500h2.500V9z" fill-rule="evenodd"/></svg><svg class="ic" style="left:1729px;top:155.5px;width:14px;height:14px;color:#333;" viewBox="0 0 16 16"><path d="M1 2.500h3.500v3H1zm5 0h9v3H6zM1 6.700h3.500v2.800H1zm5 0h9v2.800H6zM1 10.700h3.500v3H1zm5 0h9v3H6z"/></svg><svg class="ic" style="left:1745px;top:157px;width:12px;height:12px;color:#333;" viewBox="0 0 16 16"><path d="M4 6h8l-4 4.500z"/></svg><svg class="ic" style="left:1778px;top:154.5px;width:14px;height:14px;color:#333;" viewBox="0 0 16 16"><circle cx="7" cy="4" r="2.800"/><path d="M1.500 12.500c0-3.300 2-5 5.500-5s5.500 1.700 5.500 5zM1 13.500h13V15H1z"/></svg><svg class="ic" style="left:1794px;top:157px;width:12px;height:12px;color:#333;" viewBox="0 0 16 16"><path d="M4 6h8l-4 4.500z"/></svg><div class="g" style="left:1822.600px;width:38.300px;border-radius:3px"></div><svg class="ic" style="left:1835px;top:155.5px;width:13.5px;height:13.5px;color:#333;" viewBox="0 0 16 16"><path d="M6.500 1a5.500 5.500 0 0 1 4.400 8.800l4 4-1.600 1.600-4-4A5.500 5.500 0 1 1 6.500 1zm0 2a3.500 3.500 0 1 0 0 7 3.500 3.500 0 0 0 0-7z"/></svg><div style="left:261.6px;top:231px;width:1599.3000000000002px;height:2px;background:#f0f0f0"></div><div style="left:261.6px;top:232.1px;width:1599.3000000000002px;height:47.500px;background:#f9f9f9"></div><div style="left:261.6px;top:279.6px;width:1599.3000000000002px;height:47.500px;background:#fff"></div><div style="left:261.6px;top:327.1px;width:1599.3000000000002px;height:47.500px;background:#f9f9f9"></div><div style="left:261.6px;top:374.6px;width:1599.3000000000002px;height:47.500px;background:#fff"></div><div style="left:261.6px;top:422.1px;width:1599.3000000000002px;height:47.500px;background:#f9f9f9"></div><div class="vb" style="left:296.2px"></div><div class="vb" style="left:498.3px"></div><div class="vb" style="left:643.1px"></div><div class="vb" style="left:818.9px"></div><div class="vb" style="left:992.4px"></div><div class="vb" style="left:1092.7px"></div><div class="vb" style="left:1215.7px"></div><div class="vb" style="left:1724.6px"></div><div class="th" style="left:296.2px;width:202.10000000000002px">供应商通道ID</div><div class="th" style="left:498.3px;width:144.8px">英文编码</div><div class="th" style="left:643.1px;width:175.79999999999995px">通道名称</div><div class="th" style="left:818.9px;width:173.5px">支付类型</div><div class="th" style="left:992.4px;width:100.30000000000007px">图标</div><div class="th" style="left:1092.7px;width:123.0px">状态</div><div class="th" style="left:1215.7px;width:508.89999999999986px">业务处理</div><div class="th" style="left:1724.6px;width:136.30000000000018px">操作</div><div class="cb" style="top:202.500px"></div><div class="cb" style="top:249.1px"></div><div class="td" style="left:296.2px;width:202.10000000000002px;top:232.1px">7</div><div class="td" style="left:498.3px;width:144.8px;top:232.1px">zyhk</div><div class="td" style="left:643.1px;width:175.79999999999995px;top:232.1px">石油</div><div class="td" style="left:818.9px;width:173.5px;top:232.1px">支付宝H5</div><svg style="left:1024.1px;top:238.8px;width:34px;height:34px" viewBox="0 0 30 30"><circle cx="15" cy="13" r="12" fill="#f5c21a"/><path d="M3.500 13a11.500 11.500 0 0 1 23 0c0 2-1 4-2 5.500-3-2.500-6-3.500-9.500-3.500S8.500 16 5.500 18.500C4.500 17 3.500 15 3.500 13z" fill="#f2a01a"/><path d="M4 17.500C7 15.500 11 14.500 15 14.500s8 1 11 3c-1.500 5-5 9.500-11 9.500S5.500 22.500 4 17.500z" fill="#e0261c"/><path d="M15 15v11" stroke="#fff" stroke-width="1.200"/></svg><div style="left:1132px;top:250.6px;width:11px;height:11px;border-radius:50%;background:#722ed1"></div><div class="td" style="left:1146px;top:232.1px;color:#722ed1">开启</div><div class="bb" style="left:1356.600px;top:244.9px;width:47.200px;background:#722ed1">子账户</div><div class="bb" style="left:1409px;top:244.9px;width:84.900px;background:#f99b34">设置风控规则</div><div class="bb" style="left:1496.700px;top:244.9px;width:85.300px;background:#64619f">设置通道成本</div><div class="bb" style="left:1767.700px;top:244.9px;width:23.300px;background:#722ed1"><svg class="ic" style="left:6px;top:5.5px;width:11px;height:11px;color:#fff;" viewBox="0 0 16 16"><path d="M11.500 1.500l3 3-9 9-4 1 1-4zM10 3l3 3"/></svg></div><div class="bb" style="left:1795.400px;top:244.9px;width:22.400px;background:#f99b34"><svg class="ic" style="left:6px;top:5.5px;width:11px;height:11px;color:#fff;" viewBox="0 0 16 16"><path d="M5.500 1h5l.5 1.500H15V4H1V2.500h4zM2.500 5h11l-.8 10H3.300z"/></svg></div><div class="cb" style="top:296.6px"></div><div class="td" style="left:296.2px;width:202.10000000000002px;top:279.6px">4</div><div class="td" style="left:498.3px;width:144.8px;top:279.6px">Jdyk</div><div class="td" style="left:643.1px;width:175.79999999999995px;top:279.6px">京东E卡</div><div class="td" style="left:818.9px;width:173.5px;top:279.6px">微信H5</div><svg style="left:1026.1px;top:288.3px;width:30px;height:30px" viewBox="0 0 30 30"><rect x="1" y="1" width="28" height="28" rx="6" fill="#e8392c"/><path d="M8 9h13l-3 5h4l-9 4 2 3h-6l3-4-5-1z" fill="#f7c8c2"/><path d="M9 23h12" stroke="#fff" stroke-width="1.500"/></svg><div style="left:1132px;top:298.1px;width:11px;height:11px;border-radius:50%;background:#722ed1"></div><div class="td" style="left:1146px;top:279.6px;color:#722ed1">开启</div><div class="bb" style="left:1356.600px;top:292.4px;width:47.200px;background:#722ed1">子账户</div><div class="bb" style="left:1409px;top:292.4px;width:84.900px;background:#f99b34">设置风控规则</div><div class="bb" style="left:1496.700px;top:292.4px;width:85.300px;background:#64619f">设置通道成本</div><div class="bb" style="left:1767.700px;top:292.4px;width:23.300px;background:#722ed1"><svg class="ic" style="left:6px;top:5.5px;width:11px;height:11px;color:#fff;" viewBox="0 0 16 16"><path d="M11.500 1.500l3 3-9 9-4 1 1-4zM10 3l3 3"/></svg></div><div class="bb" style="left:1795.400px;top:292.4px;width:22.400px;background:#f99b34"><svg class="ic" style="left:6px;top:5.5px;width:11px;height:11px;color:#fff;" viewBox="0 0 16 16"><path d="M5.500 1h5l.5 1.500H15V4H1V2.500h4zM2.500 5h11l-.8 10H3.300z"/></svg></div><div class="cb" style="top:344.1px"></div><div class="td" style="left:296.2px;width:202.10000000000002px;top:327.1px">3</div><div class="td" style="left:498.3px;width:144.8px;top:327.1px">bankams</div><div class="td" style="left:643.1px;width:175.79999999999995px;top:327.1px">银行卡</div><div class="td" style="left:818.9px;width:173.5px;top:327.1px">网银支付</div><svg style="left:1025.1px;top:334.8px;width:32px;height:32px" viewBox="0 0 30 30"><circle cx="15" cy="15" r="12.500" fill="#fff" stroke="#d9363a" stroke-width="2.200"/><rect x="8.500" y="8" width="13" height="6" rx="2" fill="none" stroke="#d9363a" stroke-width="2"/><path d="M8 17h14v5.500H8z" fill="none" stroke="#d9363a" stroke-width="2"/></svg><div style="left:1132px;top:345.6px;width:11px;height:11px;border-radius:50%;background:#722ed1"></div><div class="td" style="left:1146px;top:327.1px;color:#722ed1">开启</div><div class="bb" style="left:1356.600px;top:339.9px;width:47.200px;background:#722ed1">子账户</div><div class="bb" style="left:1409px;top:339.9px;width:84.900px;background:#f99b34">设置风控规则</div><div class="bb" style="left:1496.700px;top:339.9px;width:85.300px;background:#64619f">设置通道成本</div><div class="bb" style="left:1767.700px;top:339.9px;width:23.300px;background:#722ed1"><svg class="ic" style="left:6px;top:5.5px;width:11px;height:11px;color:#fff;" viewBox="0 0 16 16"><path d="M11.500 1.500l3 3-9 9-4 1 1-4zM10 3l3 3"/></svg></div><div class="bb" style="left:1795.400px;top:339.9px;width:22.400px;background:#f99b34"><svg class="ic" style="left:6px;top:5.5px;width:11px;height:11px;color:#fff;" viewBox="0 0 16 16"><path d="M5.500 1h5l.5 1.500H15V4H1V2.500h4zM2.500 5h11l-.8 10H3.300z"/></svg></div><div class="cb" style="top:391.6px"></div><div class="td" style="left:296.2px;width:202.10000000000002px;top:374.6px">2</div><div class="td" style="left:498.3px;width:144.8px;top:374.6px">alipay</div><div class="td" style="left:643.1px;width:175.79999999999995px;top:374.6px">支付宝免签</div><div class="td" style="left:818.9px;width:173.5px;top:374.6px">支付宝扫码</div><svg style="left:1025.1px;top:382.3px;width:32px;height:32px" viewBox="0 0 30 30"><rect x="1" y="1" width="28" height="28" rx="6" fill="#1aa7ee"/><path d="M8 8.500h14M15 5v4M9.500 12.500h11c-1 4-4 8-9 10-3 1-5-1-4-3s4-2.500 8-1l9 4.500" fill="none" stroke="#fff" stroke-width="2"/></svg><div style="left:1132px;top:393.1px;width:11px;height:11px;border-radius:50%;background:#722ed1"></div><div class="td" style="left:1146px;top:374.6px;color:#722ed1">开启</div><div class="bb" style="left:1356.600px;top:387.4px;width:47.200px;background:#722ed1">子账户</div><div class="bb" style="left:1409px;top:387.4px;width:84.900px;background:#f99b34">设置风控规则</div><div class="bb" style="left:1496.700px;top:387.4px;width:85.300px;background:#64619f">设置通道成本</div><div class="bb" style="left:1767.700px;top:387.4px;width:23.300px;background:#722ed1"><svg class="ic" style="left:6px;top:5.5px;width:11px;height:11px;color:#fff;" viewBox="0 0 16 16"><path d="M11.500 1.500l3 3-9 9-4 1 1-4zM10 3l3 3"/></svg></div><div class="bb" style="left:1795.400px;top:387.4px;width:22.400px;background:#f99b34"><svg class="ic" style="left:6px;top:5.5px;width:11px;height:11px;color:#fff;" viewBox="0 0 16 16"><path d="M5.500 1h5l.5 1.500H15V4H1V2.500h4zM2.500 5h11l-.8 10H3.300z"/></svg></div><div class="cb" style="top:439.1px"></div><div class="td" style="left:296.2px;width:202.10000000000002px;top:422.1px">1</div><div class="td" style="left:498.3px;width:144.8px;top:422.1px">wechart</div><div class="td" style="left:643.1px;width:175.79999999999995px;top:422.1px">微信免签</div><div class="td" style="left:818.9px;width:173.5px;top:422.1px">支付宝转帐</div><svg style="left:1025.1px;top:429.8px;width:32px;height:32px" viewBox="0 0 30 30"><ellipse cx="15" cy="14.500" rx="14" ry="12.500" fill="#2aae3f"/><path d="M6 23l1-5 4 3z" fill="#2aae3f"/><path d="M8.500 14.500l4 3.500 9-8" fill="none" stroke="#fff" stroke-width="3" stroke-linecap="round"/></svg><div style="left:1132px;top:440.6px;width:11px;height:11px;border-radius:50%;background:#722ed1"></div><div class="td" style="left:1146px;top:422.1px;color:#722ed1">开启</div><div class="bb" style="left:1356.600px;top:434.9px;width:47.200px;background:#722ed1">子账户</div><div class="bb" style="left:1409px;top:434.9px;width:84.900px;background:#f99b34">设置风控规则</div><div class="bb" style="left:1496.700px;top:434.9px;width:85.300px;background:#64619f">设置通道成本</div><div class="bb" style="left:1767.700px;top:434.9px;width:23.300px;background:#722ed1"><svg class="ic" style="left:6px;top:5.5px;width:11px;height:11px;color:#fff;" viewBox="0 0 16 16"><path d="M11.500 1.500l3 3-9 9-4 1 1-4zM10 3l3 3"/></svg></div><div class="bb" style="left:1795.400px;top:434.9px;width:22.400px;background:#f99b34"><svg class="ic" style="left:6px;top:5.5px;width:11px;height:11px;color:#fff;" viewBox="0 0 16 16"><path d="M5.500 1h5l.5 1.500H15V4H1V2.500h4zM2.500 5h11l-.8 10H3.300z"/></svg></div><div style="left:261.600px;top:486px;font-size:13px;line-height:18px;color:#333">显示第 1 到第 5 条记录，总共 5 条记录</div><div style="left:819.0px;top:504px;width:35px;height:34.600px;background:#f7f7f7"></div><div style="left:853.6px;top:504px;width:35px;height:34.600px;background:#f4f4f4"></div><div style="left:888.2px;top:504px;width:35px;height:34.600px;background:#efefef"></div><div style="left:922.8px;top:504px;width:35px;height:34.600px;background:#f2f2f2"></div><div style="left:957.4px;top:504px;width:35px;height:34.600px;background:#f1f1f1"></div><div style="left:992.0px;top:504px;width:35px;height:34.600px;background:#efefef"></div><div style="left:1026.6px;top:504px;width:35px;height:34.600px;background:#efefef"></div><div style="left:1061.2px;top:504px;width:35px;height:34.600px;background:#f8f8f8"></div></div>
</body></html>
